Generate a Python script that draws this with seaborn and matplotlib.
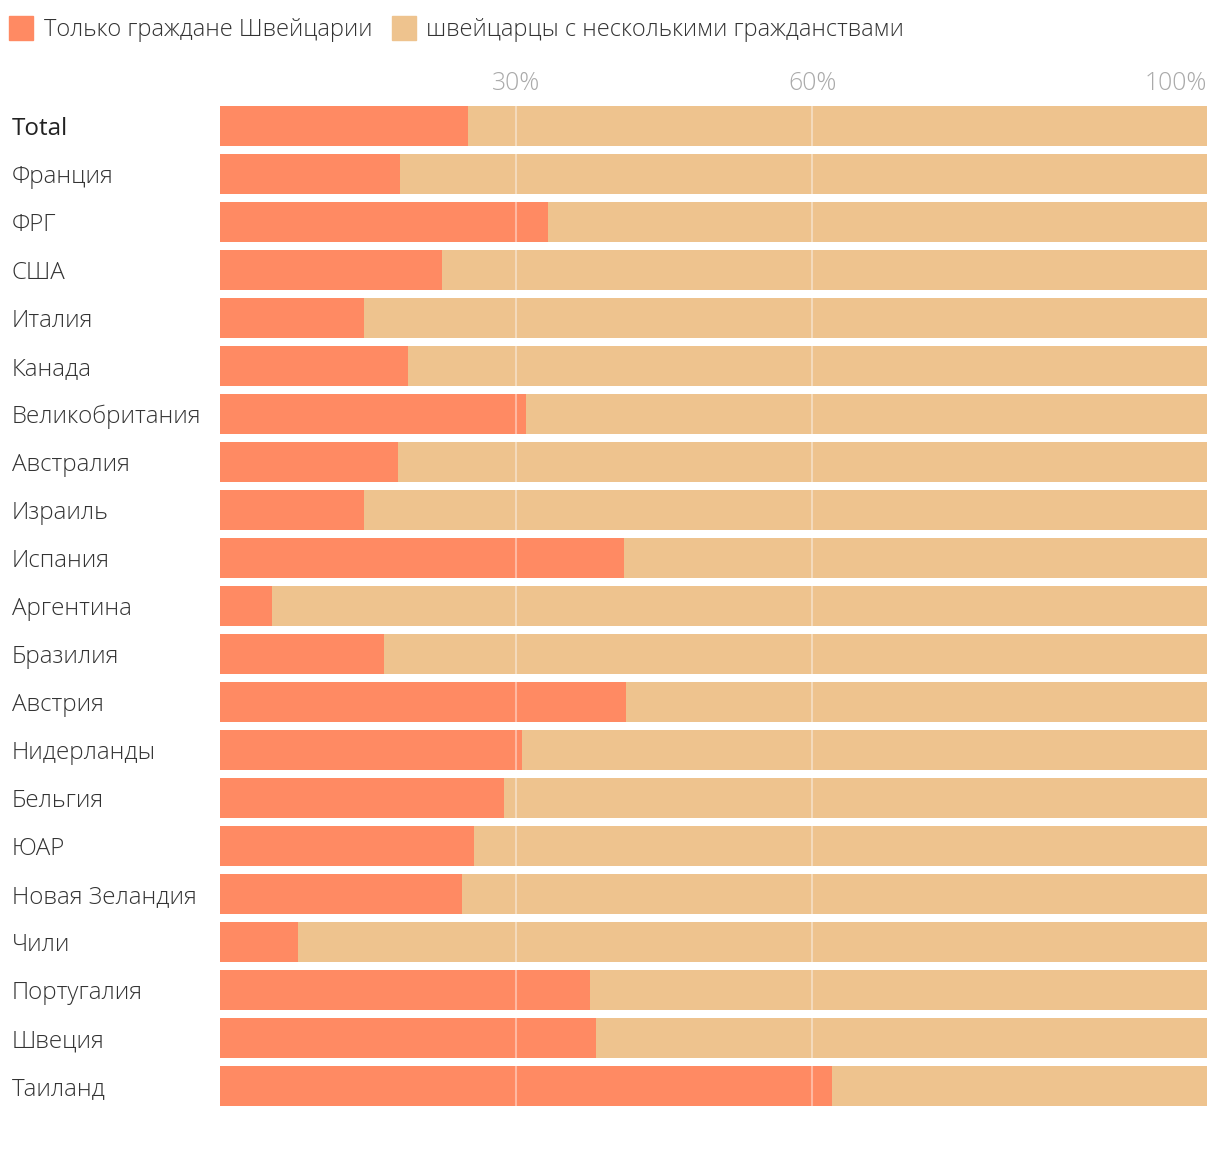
import matplotlib
matplotlib.use("Agg")
import matplotlib.pyplot as plt
import seaborn as sns
import pandas as pd
from matplotlib.patches import Patch
from matplotlib import font_manager

countries = ["Total", "Франция", "ФРГ", "США", "Италия", "Канада", "Великобритания",
             "Австралия", "Израиль", "Испания", "Аргентина", "Бразилия", "Австрия",
             "Нидерланды", "Бельгия", "ЮАР", "Новая Зеландия", "Чили", "Португалия",
             "Швеция", "Таиланд"]
only_swiss = [25.1, 18.2, 33.2, 22.5, 14.6, 19.0, 31.0, 18.0, 14.6, 40.9, 5.3, 16.6,
              41.1, 30.6, 28.8, 25.7, 24.5, 7.9, 37.5, 38.1, 62.0]
multi = [74.9, 81.8, 66.8, 77.5, 85.4, 81.0, 69.0, 82.0, 85.4, 59.1, 94.7, 83.4,
         58.9, 69.4, 71.2, 74.3, 75.5, 92.1, 62.5, 61.9, 38.0]
tick_vals = [30, 60, 100]
tick_labels = ["30%", "60%", "100%"]
legend_labels = ["Только граждане Швейцарии", "швейцарцы с несколькими гражданствами"]

c_only = "#FF8A63"
c_multi = "#EEC38E"

sns.set_theme(style="white")
plt.rcParams['font.family'] = ['Open Sans', 'DejaVu Sans']

avail = {(f.name, f.weight) for f in font_manager.fontManager.ttflist}
light_weight = "light" if any(n == "Open Sans" and (w == 300 or w == "light") for n, w in avail) else "normal"

df = pd.DataFrame({"country": countries, "only": only_swiss,
                   "total": [a + b for a, b in zip(only_swiss, multi)]})

fig = plt.figure(figsize=(12.2, 11.66), dpi=100)
ax = fig.add_axes([220/1220, 1 - 1110/1166, 987/1220, 1008/1166])

sns.barplot(data=df, y="country", x="total", color=c_multi, width=40/48,
            orient="h", ax=ax, saturation=1, zorder=1, linewidth=0)
sns.barplot(data=df, y="country", x="only", color=c_only, width=40/48,
            orient="h", ax=ax, saturation=1, zorder=2, linewidth=0)

ax.set_xlim(0, 100)
ax.set_ylim(len(countries) - 0.5, -0.5)
ax.set_xlabel("")
ax.set_ylabel("")
for s in ax.spines.values():
    s.set_visible(False)

ax.xaxis.tick_top()
ax.set_xticks(tick_vals)
ax.set_xticklabels(tick_labels)
ax.tick_params(axis="x", length=0, pad=4, labelsize=17.8, labelcolor="#AAAAAA")
for lbl, ha in zip(ax.get_xticklabels(), ["center", "center", "right"]):
    lbl.set_horizontalalignment(ha)
    lbl.set_fontweight(light_weight)

for v in tick_vals[:-1]:
    ax.axvline(v, color="white", alpha=0.4, lw=1.5, zorder=5)

ax.tick_params(axis="y", length=0, pad=150, labelsize=17.4, labelcolor="#333333")
for lbl in ax.get_yticklabels():
    lbl.set_horizontalalignment("left")
    if lbl.get_text() == "Total":
        lbl.set_color("#222222")
        lbl.set_fontweight("normal")
    else:
        lbl.set_fontweight(light_weight)

handles = [Patch(color=c_only), Patch(color=c_multi)]
leg = fig.legend(handles, legend_labels, loc="upper left", bbox_to_anchor=(0.0, 0.9945),
                 ncol=2, frameon=False, fontsize=17.0, handlelength=1.0, handleheight=1.2,
                 handletextpad=0.45, columnspacing=0.85, borderaxespad=0.0,
                 labelcolor="#333333")
for t in leg.get_texts():
    t.set_fontweight(light_weight)

fig.savefig("out.png", dpi=100, facecolor="white")
